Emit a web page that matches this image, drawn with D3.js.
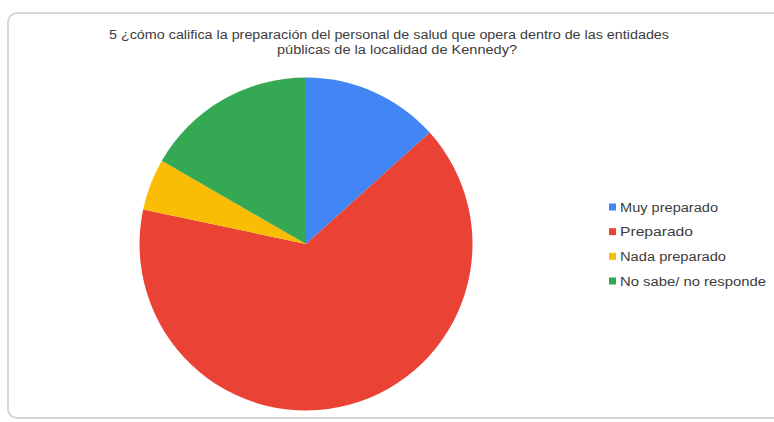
<!DOCTYPE html>
<html>
<head>
<meta charset="utf-8">
<script src="https://cdn.jsdelivr.net/npm/d3@7"></script>
<style>
  html, body { margin: 0; padding: 0; background: #fff; }
  svg { display: block; }
  text { font-family: "Liberation Sans", Arial, sans-serif; }
</style>
</head>
<body>
<svg id="chart" width="774" height="422"></svg>
<script>
// Survey answers for question 5
const categories = ["Muy preparado", "Preparado", "Nada preparado", "No sabe/ no responde"];
const counts = [8, 39, 3, 10];
const colors = ["#4285F4", "#EA4335", "#FBBC04", "#34A853"];
const titleLines = [
  "5 ¿cómo califica la preparación del personal de salud que opera dentro de las entidades",
  "públicas de la localidad de Kennedy?"
];

const svg = d3.select("#chart");
const W = 774, H = 422;

// card frame
svg.append("rect")
  .attr("x", 8).attr("y", 13)
  .attr("width", W + 20).attr("height", 405)
  .attr("rx", 9)
  .attr("fill", "#fff")
  .attr("stroke", "#d6d6d6")
  .attr("stroke-width", 2);

// title
const title = svg.append("g");
const titleWidths = [560, 240];
titleLines.forEach((t, i) => {
  title.append("text")
    .attr("x", 389 + (i ? 8 : 0))
    .attr("y", 39 + i * 15)
    .attr("text-anchor", "middle")
    .attr("font-size", 12)
    .attr("fill", "#3c3c3c")
    .attr("textLength", titleWidths[i])
    .attr("lengthAdjust", "spacingAndGlyphs")
    .text(t);
});

// pie
const cx = 306, cy = 244, r = 166.5;
const color = d3.scaleOrdinal().domain(categories).range(colors);
const pie = d3.pie().sort(null).value(d => d.value);
const arc = d3.arc().innerRadius(0).outerRadius(r);
const data = categories.map((c, i) => ({ name: c, value: counts[i] }));

svg.append("g")
  .attr("transform", `translate(${cx},${cy})`)
  .selectAll("path")
  .data(pie(data))
  .join("path")
  .attr("d", arc)
  .attr("fill", d => color(d.data.name));

// legend
const legendY = d3.scalePoint().domain(categories).range([207, 281]);
const legendWidths = [98, 73, 106, 146];
const legend = svg.append("g")
  .selectAll("g")
  .data(categories)
  .join("g")
  .attr("transform", d => `translate(609,${legendY(d)})`);

legend.append("rect")
  .attr("x", 0).attr("y", -3.5)
  .attr("width", 7).attr("height", 7)
  .attr("fill", d => color(d));

legend.append("text")
  .attr("x", 11)
  .attr("y", 0)
  .attr("dy", "0.36em")
  .attr("font-size", 12.5)
  .attr("fill", "#3c3c3c")
  .attr("textLength", (d, i) => legendWidths[i])
  .attr("lengthAdjust", "spacingAndGlyphs")
  .text(d => d);
</script>
</body>
</html>
